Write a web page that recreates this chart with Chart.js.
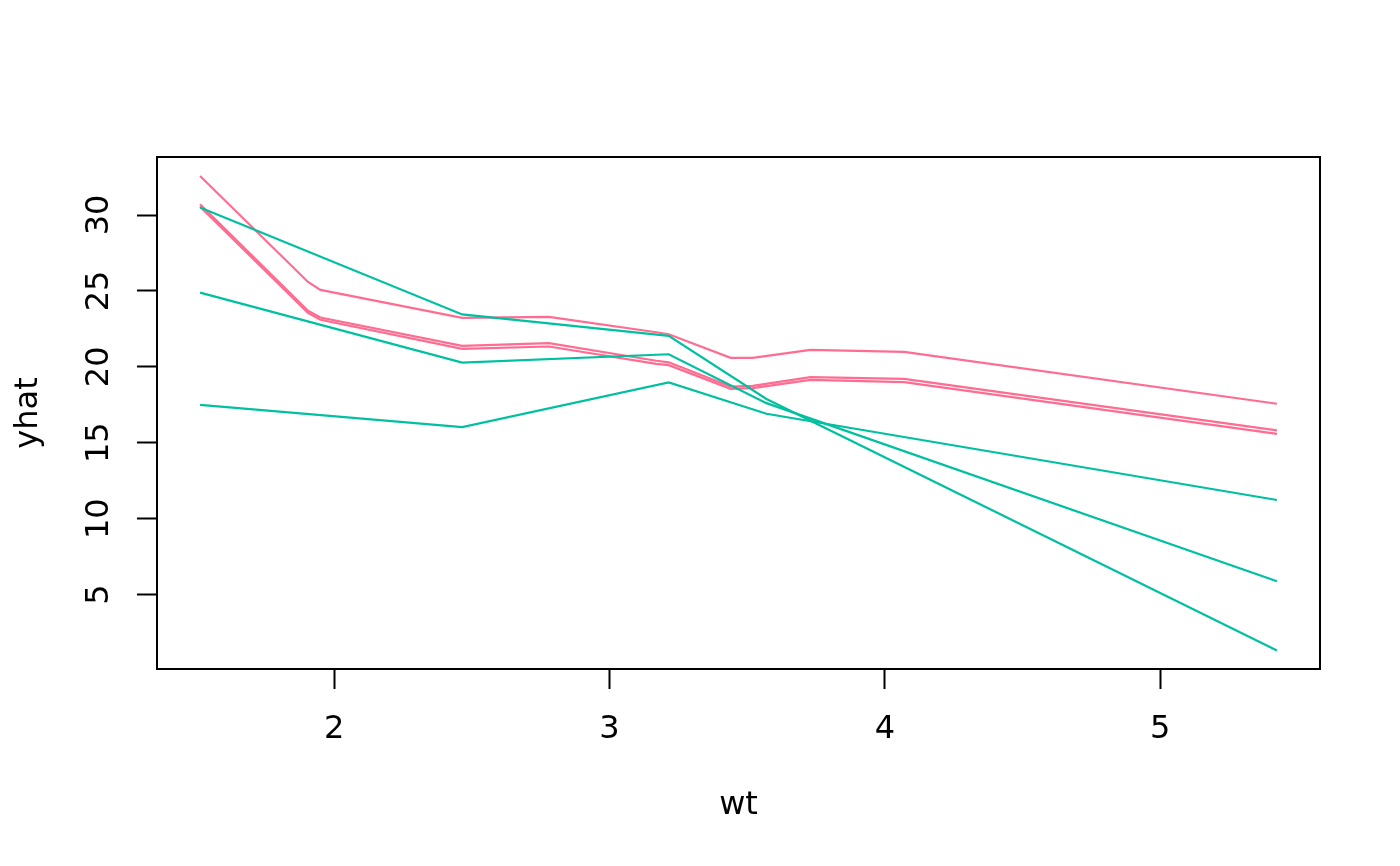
<!DOCTYPE html>
<html>
<head>
<meta charset="utf-8">
<script src="https://cdn.jsdelivr.net/npm/chart.js@4/dist/chart.umd.min.js"></script>
<style>
  body { margin: 0; background: #fff; }
</style>
</head>
<body>
<canvas id="graph01" width="1400" height="866"></canvas>
<script>
// valeurs
const wtRose = [1.513, 1.905, 1.95, 2.465, 2.78, 3.17, 3.215, 3.44, 3.52, 3.73, 4.07, 5.424];
const yhatRose1 = [32.57, 25.59, 25.07, 23.22, 23.29, 22.28, 22.15, 20.59, 20.59, 21.12, 20.99, 17.57];
const yhatRose2 = [30.7, 23.7, 23.25, 21.38, 21.56, 20.4, 20.3, 18.7, 18.75, 19.32, 19.21, 15.81];
const yhatRose3 = [30.55, 23.55, 23.1, 21.18, 21.34, 20.2, 20.11, 18.55, 18.6, 19.14, 18.99, 15.59];
const wtVert = [1.513, 2.465, 3.215, 3.57, 5.424];
const yhatVert1 = [30.5, 23.45, 22.04, 17.88, 1.32];
const yhatVert2 = [24.89, 20.28, 20.83, 17.61, 5.88];
const yhatVert3 = [17.5, 16.03, 18.97, 16.91, 11.23];
const ticksX = [2, 3, 4, 5];
const ticksY = [5, 10, 15, 20, 25, 30];

const ROSE = '#FF6C91';
const VERT = '#00C0A0';
const POLICE = { family: 'DejaVu Sans', size: 32, lineHeight: 1.2 };

/**
 * description
 * construit une courbe a partir de deux listes
 */
function courbe(xs, ys, couleur) {
  return {
    data: xs.map((x, i) => ({ x: x, y: ys[i] })),
    borderColor: couleur,
    borderWidth: 2.2,
    pointRadius: 0,
    tension: 0,
    fill: false
  };
}

/**
 * description
 * cadre autour du graphique + etiquettes de l'axe y tournees
 */
const cadre = {
  id: 'cadre',
  afterDraw(chart) {
    const { ctx, chartArea: a, scales } = chart;
    ctx.save();
    ctx.strokeStyle = '#000';
    ctx.lineWidth = 2;
    ctx.strokeRect(a.left, a.top, a.right - a.left, a.bottom - a.top);
    ctx.fillStyle = '#000';
    ctx.font = '32px "DejaVu Sans"';
    ctx.textAlign = 'center';
    ctx.textBaseline = 'middle';
    ticksY.forEach((v) => {
      let y = scales.y.getPixelForValue(v);
      ctx.save();
      ctx.translate(a.left - 57, y);
      ctx.rotate(-Math.PI / 2);
      ctx.fillText(String(v), 0, 0);
      ctx.restore();
    });
    ctx.restore();
  }
};

function graph01() {
  let data = {
    datasets: [
      courbe(wtVert, yhatVert1, VERT),
      courbe(wtVert, yhatVert2, VERT),
      courbe(wtVert, yhatVert3, VERT),
      courbe(wtRose, yhatRose1, ROSE),
      courbe(wtRose, yhatRose2, ROSE),
      courbe(wtRose, yhatRose3, ROSE),
    ]
  };
  let options = {
    responsive: false,
    animation: false,
    devicePixelRatio: 1,
    layout: { padding: { top: 157, right: 80, left: 0, bottom: 0 } },
    plugins: { legend: { display: false }, tooltip: { enabled: false } },
    scales: {
      x: {
        type: 'linear',
        min: 1.3566,
        max: 5.5804,
        afterBuildTicks: (s) => { s.ticks = ticksX.map((v) => ({ value: v })); },
        afterFit: (s) => { s.height = 197; },
        grid: { drawOnChartArea: false, drawTicks: true, tickLength: 20, tickWidth: 2, tickColor: '#000' },
        border: { display: false },
        ticks: { color: '#000', padding: 21, font: POLICE, maxRotation: 0, autoSkip: false },
        title: { display: true, text: 'wt', color: '#000', font: POLICE, padding: { top: 0, bottom: 41 } }
      },
      y: {
        type: 'linear',
        min: 0.1,
        max: 33.82,
        afterBuildTicks: (s) => { s.ticks = ticksY.map((v) => ({ value: v })); },
        afterFit: (s) => { s.width = 157; },
        grid: { drawOnChartArea: false, drawTicks: true, tickLength: 20, tickWidth: 2, tickColor: '#000' },
        border: { display: false },
        ticks: { display: false },
        title: { display: true, text: 'yhat', color: '#000', font: POLICE, padding: { top: 9, bottom: 0 } }
      }
    }
  };
  let ctx = document.getElementById('graph01').getContext('2d');
  new Chart(ctx, { type: 'line', data: data, options: options, plugins: [cadre] });
}

graph01();
</script>
</body>
</html>
